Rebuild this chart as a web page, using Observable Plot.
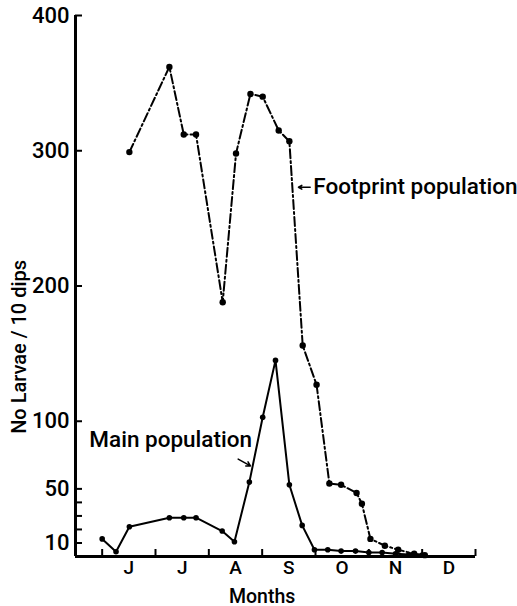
<!DOCTYPE html>
<html><head><meta charset="utf-8">
<script src="https://cdn.jsdelivr.net/npm/d3@7"></script>
<script src="https://cdn.jsdelivr.net/npm/@observablehq/plot@0.6"></script>
<style>body{margin:0;background:#fff}</style>
</head><body><div id="chart"></div>
<script>
// Month axis: 0 = start of June, one unit per month
const monthLabels = ["J", "J", "A", "S", "O", "N", "D"];
const monthBoundaries = [0, 1, 2, 3, 4, 5, 6, 7];
const yTickLabels = [10, 50, 100, 200, 300, 400];
const yMinorTicks = [20, 30, 40];

// Main population (solid line)
const mainMonth  = [0.0, 0.26, 0.51, 1.26, 1.53, 1.76, 2.25, 2.48, 2.76, 3.01, 3.25, 3.51, 3.75, 3.98, 4.23, 4.48, 4.75, 5.0, 5.25, 5.5, 5.75, 6.0];
const mainLarvae = [13, 3.5, 22, 28.7, 28.7, 28.7, 18.8, 10.9, 55, 103, 145, 53, 23, 5, 5, 4, 4, 3, 3, 2, 1.5, 1];

// Footprint population (dash-dot line)
const fpMonth  = [0.51, 1.26, 1.53, 1.76, 2.26, 2.51, 2.78, 3.01, 3.31, 3.51, 3.76, 4.02, 4.26, 4.48, 4.77, 4.87, 5.03, 5.3, 5.55, 5.85, 6.05];
const fpLarvae = [299, 362, 312, 312, 188, 298, 342, 340, 315, 307, 156, 127, 54, 53, 47, 39, 13, 8, 5, 2, 1];

// Annotations
const labelText   = ["Main population", "Footprint population"];
const labelMonth  = [-0.24, 3.96];
const labelLarvae = [86, 273];
const arrowMonth1  = [2.55, 3.90];
const arrowLarvae1 = [72, 273];
const arrowMonth2  = [2.78, 3.68];
const arrowLarvae2 = [67, 273];

const main = mainMonth.map((m, i) => ({month: m, larvae: mainLarvae[i]}));
const fp = fpMonth.map((m, i) => ({month: m, larvae: fpLarvae[i]}));
const monthCenters = monthLabels.map((_, i) => i + 0.5);
const font = "Roboto, 'DejaVu Sans'";

const chart = Plot.plot({
  width: 517, height: 606,
  marginLeft: 75, marginRight: 42, marginTop: 15, marginBottom: 50,
  style: {fontFamily: font, fontWeight: 500, background: "white", color: "black"},
  x: {domain: [-0.5, 7], axis: null},
  y: {domain: [0, 400], axis: null},
  marks: [
    Plot.ruleX([-0.5], {y1: 0, y2: 400, strokeWidth: 3}),
    Plot.ruleY([0], {x1: -0.5, x2: 7, strokeWidth: 3}),
    Plot.axisY({ticks: [...yTickLabels, ...yMinorTicks], tickSize: -7, tickPadding: 13, label: null,
      tickFormat: d => yTickLabels.includes(d) ? String(d) : "", fontSize: 22, strokeWidth: 2}),
    Plot.axisX({ticks: monthBoundaries, tickSize: -7, label: null, tickFormat: () => "", strokeWidth: 2}),
    Plot.axisX({ticks: monthCenters, tickSize: 0, tickPadding: 4, label: null,
      tickFormat: d => monthLabels[Math.floor(d)], fontSize: 19}),
    Plot.text(["Months"], {x: 3, frameAnchor: "bottom", lineAnchor: "bottom", dy: 46, fontSize: 19.5}),
    Plot.text(["No Larvae / 10 dips"], {y: 155, frameAnchor: "left", textAnchor: "middle", dx: -56, rotate: -90, fontSize: 20}),
    Plot.line(fp, {x: "month", y: "larvae", stroke: "black", strokeWidth: 2, strokeDasharray: "9,3,2,3"}),
    Plot.dot(fp, {x: "month", y: "larvae", r: 3.2, fill: "black"}),
    Plot.line(main, {x: "month", y: "larvae", stroke: "black", strokeWidth: 2}),
    Plot.dot(main, {x: "month", y: "larvae", r: 2.8, fill: "black"}),
    Plot.text(labelText, {x: (d, i) => labelMonth[i], y: (d, i) => labelLarvae[i], textAnchor: "start", fontSize: 22.5}),
    Plot.arrow(labelText, {x1: (d, i) => arrowMonth1[i], y1: (d, i) => arrowLarvae1[i],
      x2: (d, i) => arrowMonth2[i], y2: (d, i) => arrowLarvae2[i], strokeWidth: 1.5, headLength: 6})
  ]
});
document.getElementById("chart").append(chart);
</script>
</body></html>
